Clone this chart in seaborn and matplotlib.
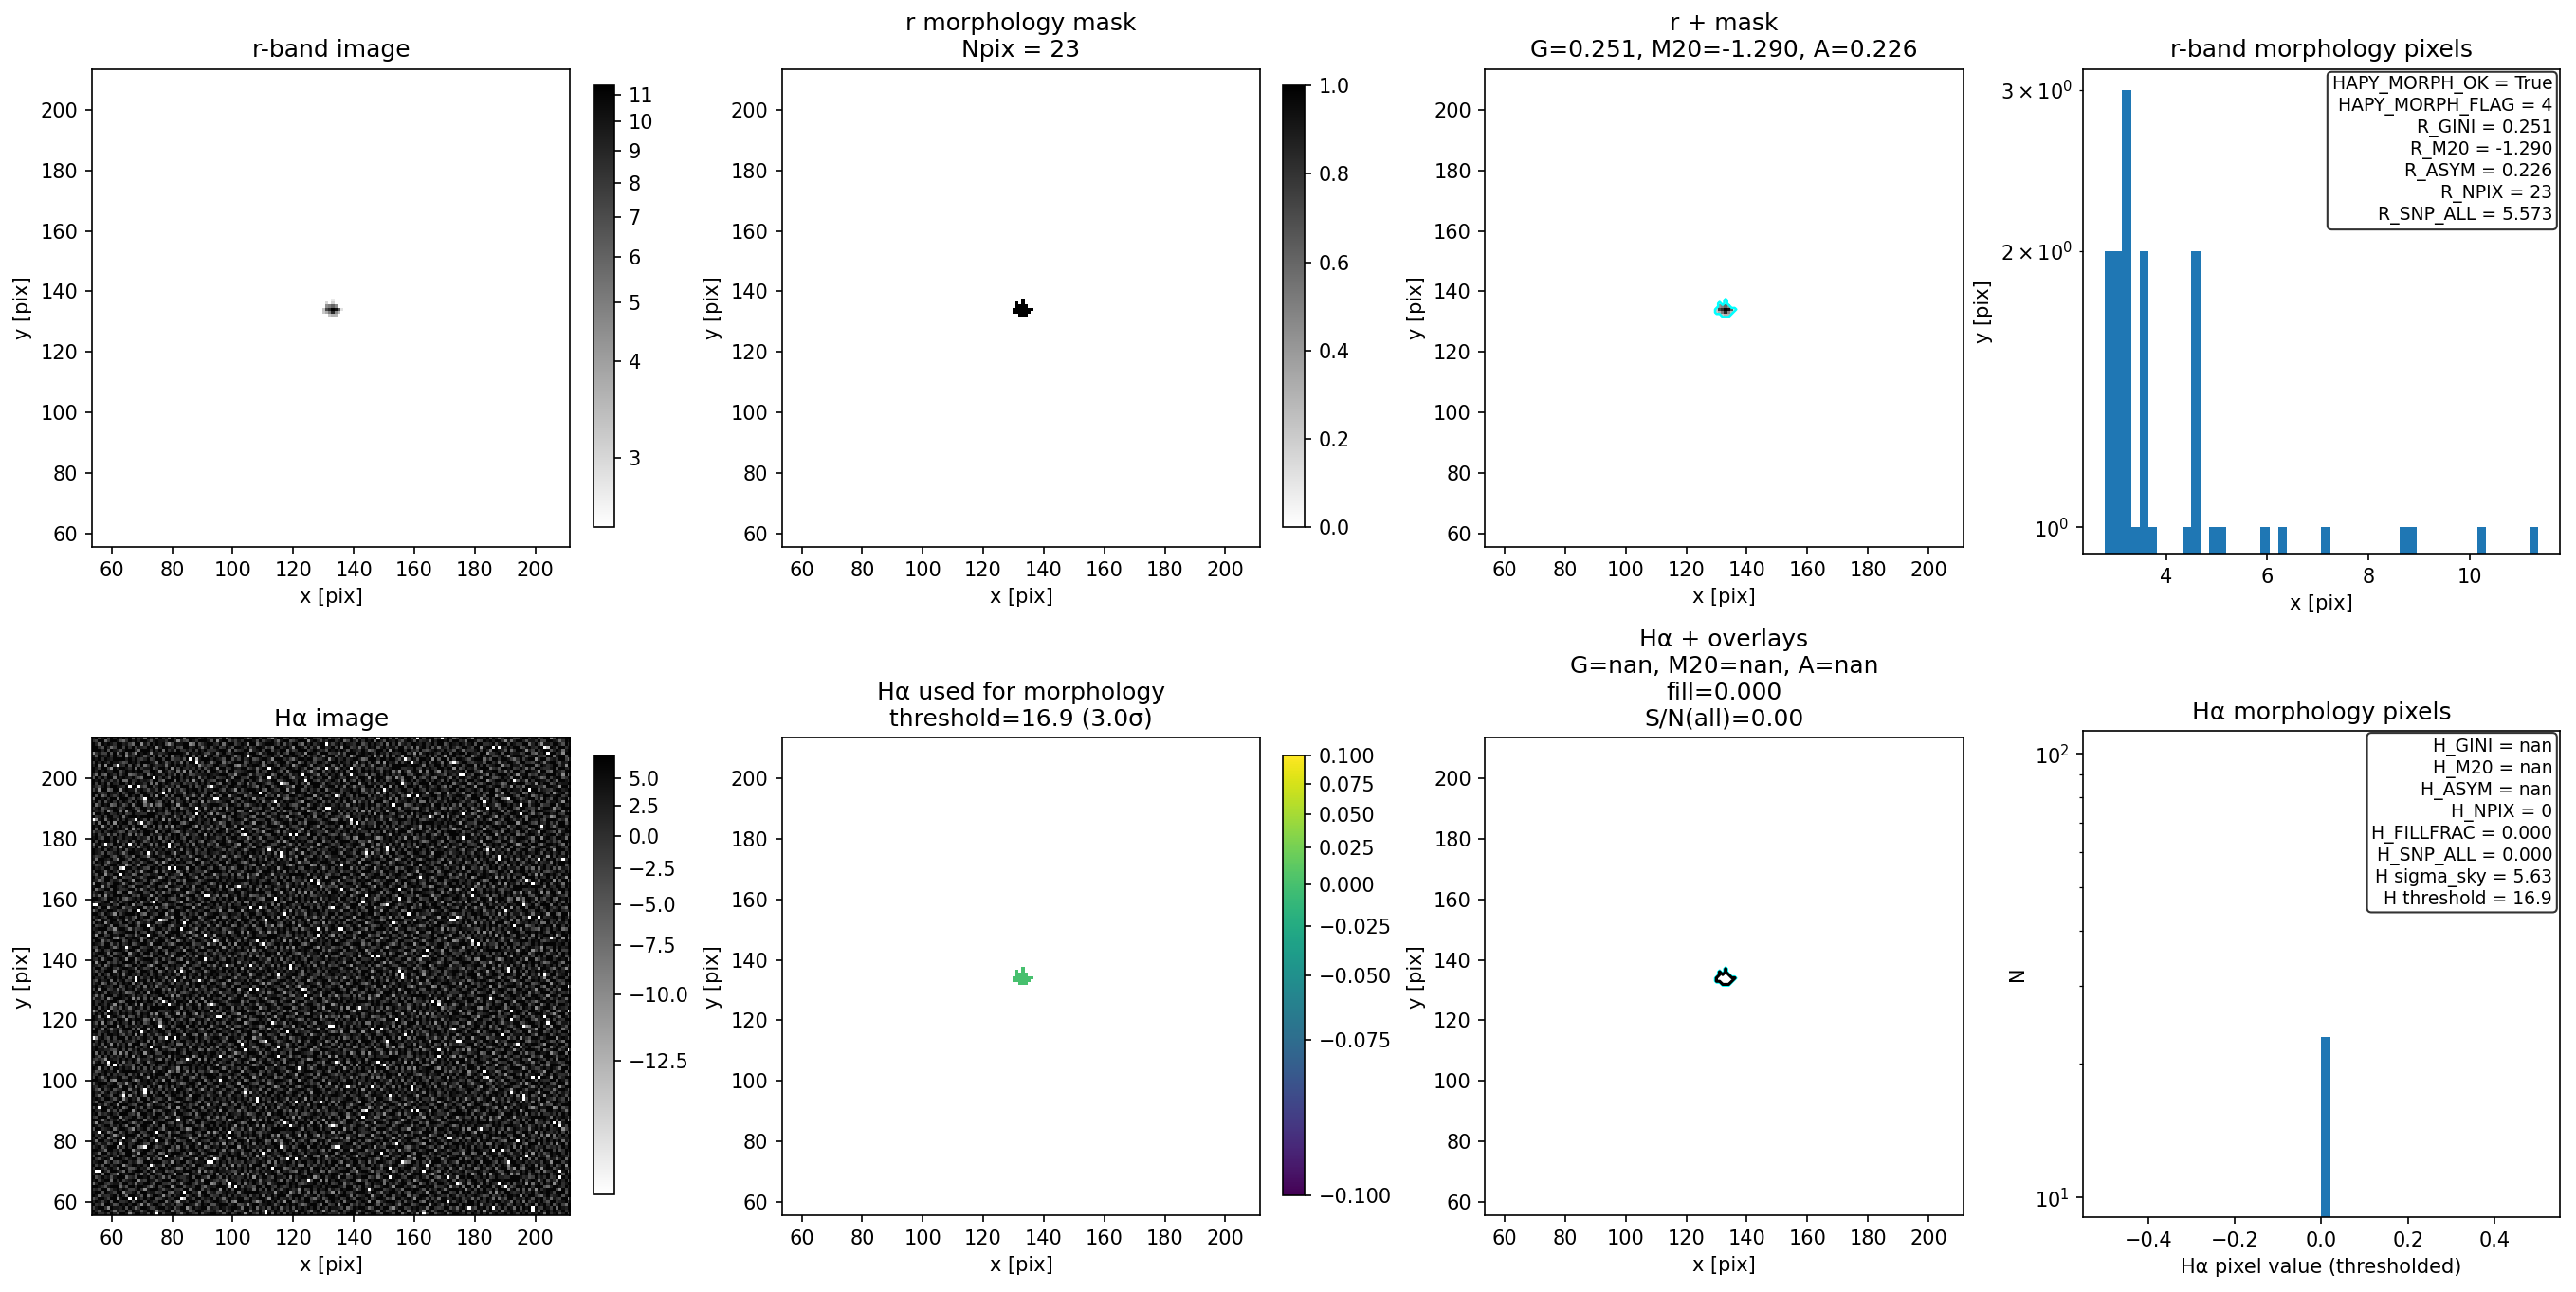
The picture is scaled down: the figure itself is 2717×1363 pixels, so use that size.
import numpy as np
import matplotlib
matplotlib.use('Agg')
import matplotlib.pyplot as plt
from matplotlib.colors import PowerNorm
import seaborn as sns

W, H = 1568.0, 786.6

# r-band pixels inside the morphology mask, top row first
mask_rows = [
    '...#...',
    '.#.#...',
    '.####..',
    '#######',
    '######.',
    '..###..',
]
mask_x0 = 130
mask_y_top = 137
r_pixels = [2.85,
            3.00, 3.05,
            4.42, 4.92, 5.95, 4.55,
            3.26, 7.15, 8.70, 11.3, 10.2, 6.30, 2.90,
            3.18, 3.72, 5.08, 8.86, 4.62, 3.38,
            3.22, 3.58, 3.52]
ha_thresholded = [0.0] * 23

r_ticks = [3, 4, 5, 6, 7, 8, 9, 10, 11]
mask_ticks = [0.0, 0.2, 0.4, 0.6, 0.8, 1.0]
ha_ticks = [5.0, 2.5, 0.0, -2.5, -5.0, -7.5, -10.0, -12.5]
used_ticks = [0.1, 0.075, 0.05, 0.025, 0.0, -0.025, -0.05, -0.075, -0.1]

r_stats = ['HAPY_MORPH_OK = True', 'HAPY_MORPH_FLAG = 4', 'R_GINI = 0.251',
           'R_M20 = -1.290', 'R_ASYM = 0.226', 'R_NPIX = 23', 'R_SNP_ALL = 5.573']
ha_stats = ['H_GINI = nan', 'H_M20 = nan', 'H_ASYM = nan', 'H_NPIX = 0',
            'H_FILLFRAC = 0.000', 'H_SNP_ALL = 0.000', 'H sigma_sky = 5.63',
            'H threshold = 16.9']

# Ha noise: patch of cells estimated by eye from the reference, digit = brightness.
# The full 158x158 frame can't be transcribed, so this patch gets reused below.
ha_levels = [6.4, 3.9, 1.8, -0.1, -2.3, -4.5, -7.3, -10.0, -13.1, -14.5]
ha_patch = [
    '1033140250017300215029041100362013405210',
    '0251002613304011520017320062410153001342',
    '4100370112050263001441003105200740210061',
    '0326001540102003716200251130440012630105',
    '2014105003320510040133006204711300250341',
    '5300240071009091302005410230098014003120',
    '0162331040260012506300172403100520161004',
    '1005012400733105002114300561209003270052',
    '3240063102014420371000252103340061005130',
    '0013510006250030014630410072005213004621',
    '6200342115003161200250033410261003512007',
    '1041006030421007340115200064013200417001',
    '0530215100063250010430261500233105002360',
    '2106003470110042615003400127005601240013',
    '1990250013604100030271105340120003170625',
    '3002410260015530216004002013650410053100',
    '0415003100742001030951260300114026001342',
    '2100630452003126500200043170200530211099',
    '0351017000241005317042600113360012700510',
    '4002310250100630020114009005123410021036',
    '1260041303500217004310650200014073105200',
    '0013600215000733100250020641300210042013',
    '3105200071403006790025310041602500310640',
    '0241153009103200145003126203004110270105',
    '1600320405012640020319005100533006102340',
    '2041063100902151300460023416200173400012',
    '0315002741300016052010430500012340061520',
    '1290164005203100430019002613500210340071',
    '5003210620014703105200361001042760013200',
    '0142004130360025001413060120350001426003',
    '2701335001002641300072001450230415005210',
    '0016203140520010062301340002910362001043',
    '3400051007132005304100216300510001430260',
    '1052310240003416002150040127002350610013',
    '0230061405100720130063510024031005203401',
    '4190013020640031504200013600710240016032',
    '0031520170002450016301240510003142500170',
    '2500343006120103400275003004620010360421',
    '1014002510730216005013410621001530024003',
    '0360125004907130260041005300240170003152',
]

fig = plt.figure(figsize=(2717 / 150, 1363 / 150), dpi=150)


def box(left, right, top, bottom):
    return [left / W, 1 - bottom / H, (right - left) / W, (bottom - top) / H]


# image frames
x0, y0 = 54, 56
n = 158
ext = [x0 - 0.5, x0 + n - 0.5, y0 - 0.5, y0 + n - 0.5]
mask = np.zeros((n, n))
r_img = np.full((n, n), 2.79)
k = 0
for i, row in enumerate(mask_rows):
    for j, c in enumerate(row):
        if c == '#':
            yy = mask_y_top - i - y0
            xx = mask_x0 + j - x0
            mask[yy, xx] = 1
            r_img[yy, xx] = r_pixels[k]
            k += 1

patch = np.array([[ha_levels[int(c)] for c in row] for row in ha_patch])
rows = []
for a in range(4):
    rows.append(np.hstack([np.rot90(patch, (a + b) % 4) if (a * b) % 2 == 0
                           else np.fliplr(np.rot90(patch, a + b)) for b in range(4)]))
ha_img = np.vstack(rows)[:n, :n]

ha_used = np.where(mask > 0, 0.0, np.nan)
xs = np.arange(x0, x0 + n)
ys = np.arange(y0, y0 + n)


def image(pos, data, cmap, norm, title, ticks=None, cpos=None):
    ax = fig.add_axes(box(*pos))
    im = ax.imshow(data, origin='lower', cmap=cmap, norm=norm, extent=ext,
                   interpolation='nearest', aspect='auto')
    ax.set_xticks(np.arange(60, 201, 20))
    ax.set_yticks(np.arange(60, 201, 20))
    ax.set_xlabel('x [pix]')
    ax.set_ylabel('y [pix]')
    ax.set_title(title)
    if cpos is not None:
        cax = fig.add_axes(box(*cpos))
        cb = fig.colorbar(im, cax=cax)
        cb.set_ticks(ticks)
    return ax


r_norm = PowerNorm(0.5, vmin=2.79, vmax=11.35)
ha_norm = PowerNorm(0.5, vmin=-14.5, vmax=7.2)

image((56, 347, 42, 333), r_img, 'gray_r', r_norm, 'r-band image', r_ticks,
      (361, 374, 52, 321))
image((476, 767, 42, 333), mask, 'gray_r', plt.Normalize(0, 1),
      'r morphology mask\nNpix = 23', mask_ticks, (781, 794, 52, 321))
ax3 = image((904, 1195, 42, 333), r_img, 'gray_r', r_norm,
            'r + mask\nG=0.251, M20=-1.290, A=0.226')
ax3.contour(xs, ys, mask, levels=[0.5], colors='cyan', linewidths=1.2)

image((56, 347, 449, 740), ha_img, 'gray_r', ha_norm, 'H\u03b1 image', ha_ticks,
      (361, 374, 460, 727))
image((476, 767, 449, 740), ha_used, 'viridis',
      PowerNorm(0.5, vmin=-0.1, vmax=0.1),
      'H\u03b1 used for morphology\nthreshold=16.9 (3.0\u03c3)', used_ticks,
      (781, 794, 460, 728))
ax7 = image((904, 1195, 449, 740), np.full((n, n), np.nan), 'gray_r', ha_norm,
            'H\u03b1 + overlays\nG=nan, M20=nan, A=nan\nfill=0.000\nS/N(all)=0.00')
ax7.contour(xs, ys, mask, levels=[0.5], colors='cyan', linewidths=1.2)
ax7.contour(xs, ys, mask, levels=[0.9], colors='black', linewidths=1.5)

# histograms
ax4 = fig.add_axes(box(1268, 1558, 42, 337))
sns.histplot(x=r_pixels, bins=50, binrange=(2.79, 11.35), color='#1f77b4',
             alpha=1, linewidth=0, ax=ax4)
ax4.set_yscale('log')
ax4.set_xlim(2.36, 11.78)
ax4.set_ylim(0.936, 3.16)
ax4.set_xlabel('x [pix]')
ax4.set_ylabel('y [pix]')
ax4.set_title('r-band morphology pixels')

ax8 = fig.add_axes(box(1268, 1558, 445, 741))
sns.histplot(x=ha_thresholded, bins=50, binrange=(-0.5, 0.5), color='#1f77b4',
             alpha=1, linewidth=0, ax=ax8)
ax8.set_yscale('log')
ax8.set_xlim(-0.55, 0.55)
ax8.set_ylim(9.03, 112.7)
ax8.set_xlabel('H\u03b1 pixel value (thresholded)')
ax8.set_ylabel('N')
ax8.set_title('H\u03b1 morphology pixels')

for ax, lines in ((ax4, r_stats), (ax8, ha_stats)):
    ax.text(0.985, 0.985, '\n'.join(lines), transform=ax.transAxes, ha='right',
            va='top', fontsize=9,
            bbox=dict(boxstyle='round,pad=0.25', facecolor='white',
                      edgecolor='black', alpha=0.8))

fig.savefig('out.png', dpi=150)
